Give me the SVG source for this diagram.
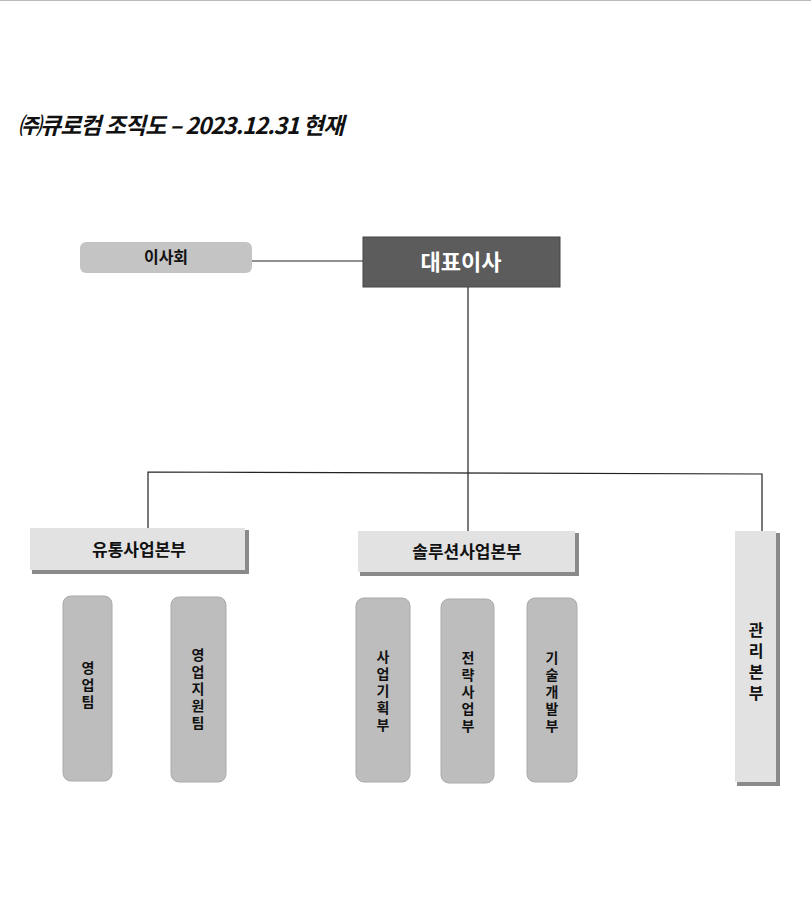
<svg xmlns="http://www.w3.org/2000/svg" width="811" height="908" viewBox="0 0 811 908">
<style>
text{font-family:"Noto Sans CJK KR","Noto Sans",sans-serif;font-weight:bold;fill:#111}
.team{fill:#bdbdbd;stroke:#aaa;stroke-width:1}
.hq{fill:#e2e2e2}
.sh{fill:#8a8a8a}
.ln{stroke:#222;stroke-width:1.2;fill:none}
.v{font-size:14px;text-anchor:middle;writing-mode:vertical-rl;text-orientation:upright;letter-spacing:3px}
</style>
<rect width="811" height="908" fill="#fff"/>
<line x1="0" y1="0.5" x2="811" y2="0.5" stroke="#bbb"/>
<text x="18" y="134" font-size="23" font-style="italic" letter-spacing="-1" font-family="'Liberation Sans','Noto Sans CJK KR',sans-serif">㈜큐로컴 조직도 – 2023.12.31 현재</text>
<g id="connectors">
<line class="ln" x1="252" y1="261" x2="363" y2="261"/>
<line class="ln" x1="468" y1="287" x2="468" y2="531"/>
<polyline class="ln" points="148,528 148,472 762,474 762,531"/>
</g>
<g id="board"><rect x="80" y="242" width="172" height="31" rx="6" fill="#c4c4c4"/><text x="166" y="263" font-size="16" text-anchor="middle">이사회</text></g>
<g id="ceo"><rect x="363" y="237" width="197" height="50" fill="#5c5c5c" stroke="#444"/><text x="461" y="270" font-size="22" font-weight="normal" text-anchor="middle" style="fill:#fff">대표이사</text></g>
<g id="dist"><rect class="sh" x="32" y="530" width="217" height="44"/><rect class="hq" x="30" y="528" width="215" height="42"/><text x="139" y="556" font-size="17" text-anchor="middle">유통사업본부</text></g>
<g id="sol"><rect class="sh" x="360" y="533" width="219" height="43"/><rect class="hq" x="358" y="531" width="217" height="41"/><text x="467" y="558" font-size="17" text-anchor="middle">솔루션사업본부</text></g>
<g id="mgmt"><rect class="sh" x="737" y="533" width="43" height="253"/><rect class="hq" x="735" y="531" width="41" height="251"/><text class="v" x="756" y="664" style="font-size:16px;letter-spacing:5px">관리본부</text></g>
<g id="t1"><rect class="team" x="63" y="596" width="49" height="185" rx="8"/><text class="v" x="88" y="686">영업팀</text></g>
<g id="t2"><rect class="team" x="171" y="597" width="55" height="185" rx="8"/><text class="v" x="198" y="690">영업지원팀</text></g>
<g id="t3"><rect class="team" x="356" y="598" width="54" height="184" rx="8"/><text class="v" x="383" y="692">사업기획부</text></g>
<g id="t4"><rect class="team" x="441" y="599" width="53" height="184" rx="8"/><text class="v" x="468" y="693">전략사업부</text></g>
<g id="t5"><rect class="team" x="527" y="598" width="50" height="184" rx="8"/><text class="v" x="552" y="693">기술개발부</text></g>
</svg>
